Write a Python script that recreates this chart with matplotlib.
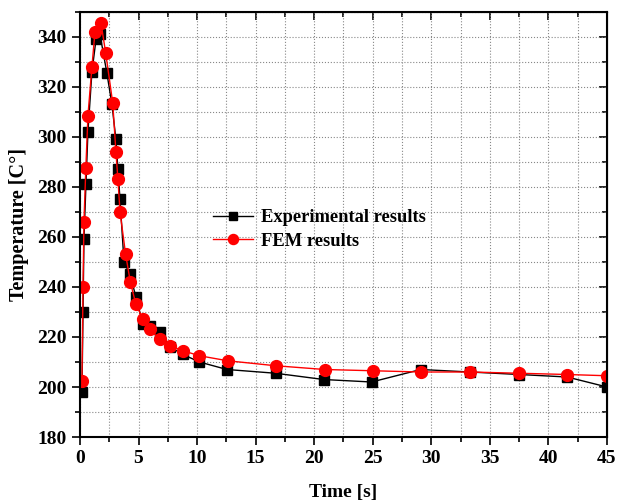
import matplotlib.pyplot as plt
from matplotlib.ticker import MultipleLocator

# Experimental results (black squares)
exp_time = [0.17, 0.26, 0.34, 0.51, 0.68, 1.02, 1.37, 1.71, 2.3, 2.73, 3.07, 3.24, 3.42, 3.76,
            4.27, 4.78, 5.38, 5.98, 6.83, 7.69, 8.8, 10.2, 12.55, 16.7, 20.8, 24.9, 29.1,
            33.3, 37.5, 41.6, 45.0]
exp_temp = [198, 230, 259, 281, 302, 326, 339, 341, 325.5, 313, 299, 287, 275, 250,
            245, 236, 225, 224.5, 222, 216, 213, 210, 207, 205.5, 203, 202, 207,
            206, 205, 204, 200]

# FEM results (red circles)
fem_time = [0.17, 0.26, 0.34, 0.5, 0.68, 1.02, 1.28, 1.8, 2.2, 2.8, 3.07, 3.24, 3.42, 3.9,
            4.3, 4.78, 5.4, 6.0, 6.8, 7.7, 8.8, 10.2, 12.6, 16.7, 20.9, 25.0, 29.1,
            33.3, 37.5, 41.6, 45.0]
fem_temp = [202.5, 240, 266, 287.5, 308.5, 328, 342, 345.5, 333.5, 313.5, 294, 283, 270, 253,
            242, 233, 227, 223, 219, 216.5, 214.5, 212.5, 210.5, 208.5, 207, 206.5, 206,
            206, 205.5, 205, 204.5]

plt.rcParams['font.family'] = ['Liberation Serif', 'DejaVu Serif']
plt.rcParams['font.weight'] = 'bold'

fig = plt.figure(figsize=(6.18, 5.03), dpi=100)
ax = fig.add_axes([0.1294, 0.1312, 0.8528, 0.845])

ax.plot(exp_time, exp_temp, color='black', lw=1, marker='s', ms=7,
        label='Experimental results')
ax.plot(fem_time, fem_temp, color='red', lw=1, marker='o', ms=8.5,
        label='FEM results')

ax.set_xlim(0, 45)
ax.set_ylim(180, 350)
ax.xaxis.set_major_locator(MultipleLocator(5))
ax.xaxis.set_minor_locator(MultipleLocator(2.5))
ax.yaxis.set_major_locator(MultipleLocator(20))
ax.yaxis.set_minor_locator(MultipleLocator(10))

ax.grid(True, which='both', color='#888888', linestyle=':', linewidth=0.8)
ax.set_axisbelow(True)

for s in ax.spines.values():
    s.set_linewidth(1.5)

ax.tick_params(which='both', direction='out', width=1.2, labelsize=14)
ax.tick_params(which='major', length=6)
ax.tick_params(which='minor', length=3.5)

# inward ticks on top and right
ax_top = ax.secondary_xaxis('top')
ax_top.xaxis.set_major_locator(MultipleLocator(5))
ax_top.xaxis.set_minor_locator(MultipleLocator(2.5))
ax_top.tick_params(which='both', direction='in', labeltop=False, width=1.2)
ax_top.tick_params(which='major', length=6)
ax_top.tick_params(which='minor', length=3.5)
ax_right = ax.secondary_yaxis('right')
ax_right.yaxis.set_major_locator(MultipleLocator(20))
ax_right.yaxis.set_minor_locator(MultipleLocator(10))
ax_right.tick_params(which='both', direction='in', labelright=False, width=1.2)
ax_right.tick_params(which='major', length=6)
ax_right.tick_params(which='minor', length=3.5)

ax.set_xlabel('Time [s]', fontsize=14, fontweight='bold', labelpad=12)
ax.set_ylabel('Temperature [C°]', fontsize=14.5, fontweight='bold', labelpad=6)

ax.legend(loc='center left', bbox_to_anchor=(0.252, 0.488), frameon=False,
          prop={'size': 13.3, 'weight': 'bold'}, handlelength=2.2, handletextpad=0.4,
          labelspacing=0.35, borderpad=0, borderaxespad=0, markerscale=0.85)

fig.savefig('out.png', dpi=100)
